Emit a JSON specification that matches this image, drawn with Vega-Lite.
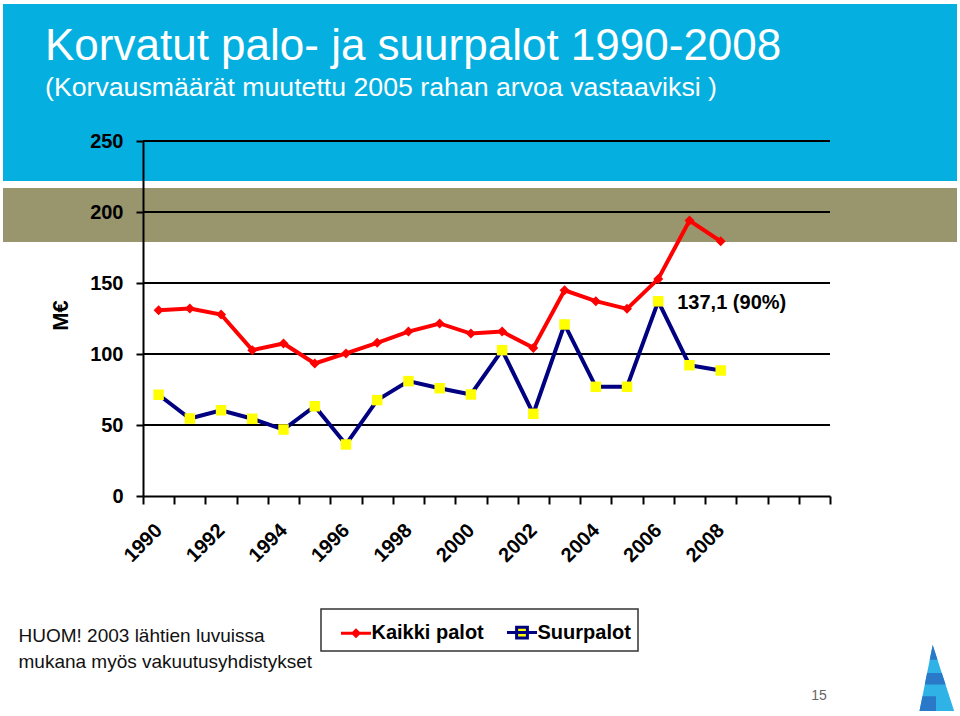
{
  "$schema": "https://vega.github.io/schema/vega-lite/v6.json",
  "width": 687,
  "height": 355,
  "autosize": {"type": "none"},
  "padding": {"left": 143, "top": 141, "right": 130, "bottom": 220},
  "background": "white",
  "config": {"view": {"stroke": null}, "font": "Liberation Sans"},
  "title": {
    "text": "Korvatut palo- ja suurpalot 1990-2008",
    "subtitle": "(Korvausmäärät muutettu 2005 rahan arvoa vastaaviksi )",
    "anchor": "start",
    "frame": "group",
    "dx": -98,
    "offset": -98,
    "font": "Liberation Sans",
    "fontSize": 44,
    "fontWeight": "normal",
    "color": "white",
    "subtitleFont": "Liberation Sans",
    "subtitleFontSize": 26.7,
    "subtitleColor": "white",
    "subtitlePadding": 6,
    "zindex": 1
  },
  "datasets": {
    "palot": [
      {"year": 1990, "series": "Kaikki palot", "value": 130.8},
      {"year": 1991, "series": "Kaikki palot", "value": 132.0},
      {"year": 1992, "series": "Kaikki palot", "value": 127.8},
      {"year": 1993, "series": "Kaikki palot", "value": 102.7},
      {"year": 1994, "series": "Kaikki palot", "value": 107.4},
      {"year": 1995, "series": "Kaikki palot", "value": 93.3},
      {"year": 1996, "series": "Kaikki palot", "value": 100.4},
      {"year": 1997, "series": "Kaikki palot", "value": 107.9},
      {"year": 1998, "series": "Kaikki palot", "value": 115.8},
      {"year": 1999, "series": "Kaikki palot", "value": 121.5},
      {"year": 2000, "series": "Kaikki palot", "value": 114.4},
      {"year": 2001, "series": "Kaikki palot", "value": 115.8},
      {"year": 2002, "series": "Kaikki palot", "value": 104.3},
      {"year": 2003, "series": "Kaikki palot", "value": 144.9},
      {"year": 2004, "series": "Kaikki palot", "value": 137.2},
      {"year": 2005, "series": "Kaikki palot", "value": 131.8},
      {"year": 2006, "series": "Kaikki palot", "value": 152.9},
      {"year": 2007, "series": "Kaikki palot", "value": 194.0},
      {"year": 2008, "series": "Kaikki palot", "value": 179.4},
      {"year": 1990, "series": "Suurpalot", "value": 71.3},
      {"year": 1991, "series": "Suurpalot", "value": 54.6},
      {"year": 1992, "series": "Suurpalot", "value": 60.4},
      {"year": 1993, "series": "Suurpalot", "value": 54.4},
      {"year": 1994, "series": "Suurpalot", "value": 46.8},
      {"year": 1995, "series": "Suurpalot", "value": 63.2},
      {"year": 1996, "series": "Suurpalot", "value": 36.3},
      {"year": 1997, "series": "Suurpalot", "value": 67.5},
      {"year": 1998, "series": "Suurpalot", "value": 80.9},
      {"year": 1999, "series": "Suurpalot", "value": 75.9},
      {"year": 2000, "series": "Suurpalot", "value": 71.5},
      {"year": 2001, "series": "Suurpalot", "value": 102.7},
      {"year": 2002, "series": "Suurpalot", "value": 57.9},
      {"year": 2003, "series": "Suurpalot", "value": 120.8},
      {"year": 2004, "series": "Suurpalot", "value": 76.9},
      {"year": 2005, "series": "Suurpalot", "value": 76.9},
      {"year": 2006, "series": "Suurpalot", "value": 137.1},
      {"year": 2007, "series": "Suurpalot", "value": 92.1},
      {"year": 2008, "series": "Suurpalot", "value": 88.4}
    ],
    "ruudukko": [{"arvo": 50}, {"arvo": 100}, {"arvo": 150}, {"arvo": 200}, {"arvo": 250}],
    "huomautus": [{"year": 2006, "value": 137.1, "label": "137,1 (90%)"}]
  },
  "layer": [
    {
      "data": {"values": [{}]},
      "mark": {"type": "rect", "color": "#05b0e0"},
      "encoding": {
        "x": {"value": -140},
        "x2": {"value": 814},
        "y": {"datum": 221.8, "type": "quantitative", "scale": {"domain": [0, 250]}},
        "y2": {"datum": 346.5}
      }
    },
    {
      "data": {"values": [{}]},
      "mark": {"type": "rect", "color": "#99966e"},
      "encoding": {
        "x": {"value": -140},
        "x2": {"value": 814},
        "y": {"datum": 178.9, "type": "quantitative", "scale": {"domain": [0, 250]}},
        "y2": {"datum": 216.9}
      }
    },
    {
      "data": {"name": "ruudukko"},
      "mark": {"type": "rule", "color": "black", "strokeWidth": 2},
      "encoding": {
        "y": {"field": "arvo", "type": "quantitative", "scale": {"domain": [0, 250]}}
      }
    },
    {
      "data": {"name": "palot"},
      "mark": {"type": "line", "strokeWidth": 4},
      "encoding": {
        "x": {
          "field": "year",
          "type": "ordinal",
          "bandPosition": 0.5,
          "scale": {"type": "band", "domain": [1990,1991,1992,1993,1994,1995,1996,1997,1998,1999,2000,2001,2002,2003,2004,2005,2006,2007,2008,2009,2010,2011], "paddingInner": 0, "paddingOuter": 0},
          "axis": {
            "title": ["HUOM! 2003 lähtien luvuissa", "mukana myös vakuutusyhdistykset"],
            "titleX": -125,
            "titleY": 145,
            "titleAlign": "left",
            "titleBaseline": "alphabetic",
            "titleFont": "Liberation Sans",
            "titleFontSize": 19,
            "titleFontWeight": "normal",
            "titleColor": "#111111",
            "titleLineHeight": 26,
            "labelExpr": "datum.value % 2 == 0 && datum.value <= 2008 ? datum.label : ''",
            "labelAngle": -45,
            "labelAlign": "right",
            "labelBaseline": "middle",
            "labelFont": "Liberation Sans",
            "labelFontSize": 20,
            "labelFontWeight": "bold",
            "labelColor": "black",
            "labelPadding": 23,
            "labelOverlap": false,
            "labelBound": false,
            "labelFlush": false,
            "tickBand": "extent",
            "tickColor": "black",
            "tickWidth": 2,
            "tickSize": 8,
            "domainColor": "black",
            "domainWidth": 2,
            "grid": false,
            "zindex": 1
          }
        },
        "y": {
          "field": "value",
          "type": "quantitative",
          "scale": {"domain": [0, 250]},
          "axis": {
            "values": [0, 50, 100, 150, 200, 250],
            "grid": false,
            "title": "M€",
            "titleX": -83,
            "titleY": 174,
            "titleAngle": 270,
            "titleAlign": "center",
            "titleBaseline": "middle",
            "titleFont": "Liberation Sans",
            "titleFontSize": 22,
            "titleFontWeight": "bold",
            "titleColor": "black",
            "labelFont": "Liberation Sans",
            "labelFontSize": 20,
            "labelFontWeight": "bold",
            "labelColor": "black",
            "labelPadding": 13,
            "tickColor": "black",
            "tickWidth": 2,
            "tickSize": 7,
            "domainColor": "black",
            "domainWidth": 2,
            "zindex": 1
          }
        },
        "stroke": {
          "field": "series",
          "type": "nominal",
          "scale": {"domain": ["Kaikki palot", "Suurpalot"], "range": ["#ff0000", "#000080"]},
          "legend": {
            "orient": "none",
            "legendX": 178,
            "legendY": 468,
            "direction": "horizontal",
            "title": null,
            "padding": 7,
            "strokeColor": "#333333",
            "fillColor": "white",
            "symbolSize": 900,
            "symbolStrokeWidth": 3,
            "symbolOffset": 11.5,
            "labelOffset": -1,
            "columnPadding": 10,
            "labelFont": "Liberation Sans",
            "labelFontSize": 20,
            "labelFontWeight": "bold",
            "labelColor": "black",
            "labelExpr": "datum.label == 'Suurpalot' ? 'Suurpalot\u00a0\u00a0\u00a0\u00a0\u00a0' : datum.label",
            "encode": {
              "legend": {"update": {"strokeWidth": {"value": 1.5}}}
            }
          }
        }
      }
    },
    {
      "data": {"name": "palot"},
      "transform": [{"filter": "datum.year > 3000"}],
      "mark": {"type": "point", "filled": true},
      "encoding": {
        "fill": {"field": "series", "type": "nominal", "scale": {"domain": ["Kaikki palot", "Suurpalot"], "range": ["#ff0000", "#ffff00"]}, "legend": null},
        "shape": {"field": "series", "type": "nominal", "scale": {"domain": ["Kaikki palot", "Suurpalot"], "range": ["M-1,0H1M0,-0.2L0.2,0L0,0.2L-0.2,0Z", "M-1,0H1M-0.36,-0.36H0.36V0.36H-0.36Z"]}, "legend": null}
      }
    },
    {
      "data": {"name": "palot"},
      "transform": [{"filter": "datum.series === 'Kaikki palot'"}],
      "mark": {"type": "point", "filled": true, "opacity": 1, "shape": "diamond", "color": "#ff0000", "size": 100},
      "encoding": {
        "x": {"field": "year", "type": "ordinal", "bandPosition": 0.5,
          "scale": {"type": "band", "domain": [1990,1991,1992,1993,1994,1995,1996,1997,1998,1999,2000,2001,2002,2003,2004,2005,2006,2007,2008,2009,2010,2011], "paddingInner": 0, "paddingOuter": 0}},
        "y": {"field": "value", "type": "quantitative", "scale": {"domain": [0, 250]}}
      }
    },
    {
      "data": {"name": "palot"},
      "transform": [{"filter": "datum.series === 'Suurpalot'"}],
      "mark": {"type": "point", "filled": true, "opacity": 1, "shape": "square", "color": "#ffff00", "size": 110},
      "encoding": {
        "x": {"field": "year", "type": "ordinal", "bandPosition": 0.5,
          "scale": {"type": "band", "domain": [1990,1991,1992,1993,1994,1995,1996,1997,1998,1999,2000,2001,2002,2003,2004,2005,2006,2007,2008,2009,2010,2011], "paddingInner": 0, "paddingOuter": 0}},
        "y": {"field": "value", "type": "quantitative", "scale": {"domain": [0, 250]}}
      }
    },
    {
      "data": {"name": "huomautus"},
      "mark": {"type": "text", "align": "left", "baseline": "middle", "dx": 19, "dy": 2, "font": "Liberation Sans", "fontSize": 20, "fontWeight": "bold", "color": "black"},
      "encoding": {
        "x": {"field": "year", "type": "ordinal", "bandPosition": 0.5,
          "scale": {"type": "band", "domain": [1990,1991,1992,1993,1994,1995,1996,1997,1998,1999,2000,2001,2002,2003,2004,2005,2006,2007,2008,2009,2010,2011], "paddingInner": 0, "paddingOuter": 0}},
        "y": {"field": "value", "type": "quantitative", "scale": {"domain": [0, 250]}},
        "text": {"field": "label"}
      }
    },
    {
      "data": {"values": [{"sivu": "15"}]},
      "mark": {"type": "text", "align": "center", "baseline": "middle", "font": "Liberation Sans", "fontSize": 14, "color": "#666666"},
      "encoding": {"x": {"value": 676}, "y": {"value": 555}, "text": {"field": "sivu"}}
    },
    {
      "data": {"values": [{}]},
      "mark": {"type": "point", "filled": true, "opacity": 1, "color": "#2fb3e6", "size": 4356, "shape": "M-0.1,-1L0.55,1L-0.5,1Z"},
      "encoding": {"x": {"value": 793}, "y": {"value": 537}}
    },
    {
      "data": {"values": [{}]},
      "mark": {"type": "point", "filled": true, "opacity": 1, "color": "#2a78c8", "size": 4356, "shape": "M-0.1,-1L0.046,-0.55L-0.19,-0.55Z M-0.27,-0.15L0.176,-0.15L0.29,0.2L-0.34,0.2Z M-0.41,0.55L0,0.55L0,1L-0.5,1Z"},
      "encoding": {"x": {"value": 793}, "y": {"value": 537}}
    }
  ]
}
